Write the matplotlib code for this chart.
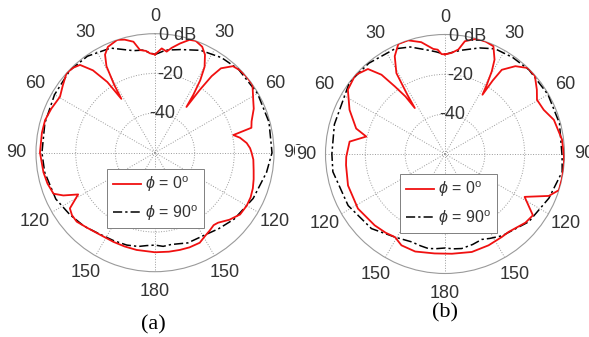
import numpy as np
import matplotlib
matplotlib.use("Agg")
import matplotlib.pyplot as plt

plt.rcParams['font.family'] = ['Liberation Sans', 'DejaVu Sans']
plt.rcParams['mathtext.fontset'] = 'custom'
plt.rcParams['mathtext.rm'] = 'Liberation Sans'
plt.rcParams['mathtext.it'] = 'Liberation Sans:italic'

# ---------------- data (angle in deg, clockwise from top; gain in dB) -------------
a_red_ang = [0, 3.7, 6.6, 9, 12.9, 17, 20, 24, 27, 30, 32, 33.5, 34.5, 35.5, 36.5, 38, 42, 46, 50,
             55, 61.8, 66, 72, 75.5, 77.3, 80, 84, 87.3, 90, 94, 100, 105, 110, 115, 120, 126, 132,
             138, 141, 145, 149, 153.6, 160, 165.6, 172, 180, 190.7, 198, 205, 214, 222, 228.6, 233,
             236.8, 241.5, 245, 248, 254, 260, 270, 280, 286.5, 293, 300.5, 306, 312, 316, 319.5, 323,
             326, 328, 329, 330.7, 333, 336, 341.5, 345, 349, 351.7, 355, 357, 360]
a_red_db = [-10.5, -7.3, -8.7, -6.5, -3.5, -0.5, 0, -1.5, -4.5, -10, -17, -25, -32, -21, -12, -6, -1.3, -0.3, 0,
            0, -3.8, -5.5, -8.8, -9.8, -19.5, -16.5, -13.5, -12, -11.3, -10.3, -9.5, -8.5, -7.5, -6.8, -6.6, -7, -9.5,
            -12.5, -13, -12, -11, -9.3, -9.2, -9.4, -9.6, -9.8, -10.1, -10.3, -10.4, -10.2, -9, -7.4, -7.6,
            -8.7, -15.9, -9, -4.8, -3.6, -2.9, -2, -2.1, -2.2, -3.2, -4.4, -2.5, 0, -0.5, -1.8, -8,
            -17, -28, -20, -10, -4.5, -1.6, 0, -1, -3, -7.7, -8.5, -9.8, -10.5]

a_blk_ang = [0, 6, 14, 24, 35, 45, 60, 75, 90, 100, 115, 130, 140, 150, 160, 165, 170, 175, 180, 185,
             190, 197, 205, 214, 224, 234, 245, 260, 270, 285, 300, 314, 325, 337, 348, 353, 360]
a_blk_db = [-10.5, -8.0, -6.4, -3.5, -1.5, -0.5, -0.3, -0.5, -1.0, -2.9, -5.4, -7.9, -10, -11.6, -11.6,
            -12.5, -13, -12.6, -13.4, -13, -12, -11.3, -11, -10.4, -8.5, -6.9, -4.8, -3.5, -3, -2.5, -1.5,
            -0.3, -0.6, -2.7, -7.4, -7.9, -10.5]

b_red_ang = [0, 3.8, 7.3, 10, 15.3, 20, 24.2, 27.7, 29.5, 31.1, 32.3, 33, 34, 38.7, 44, 49, 55, 59.5,
             65.9, 72.6, 83, 91, 95, 101.8, 107.6, 112, 118.3, 124.9, 130.5, 140.8, 145.6, 154.5, 164.7,
             176, 186, 197, 205.5, 211, 217, 224.6, 237.9, 252, 263.6, 268.4, 277.4, 282.5, 286, 294.8,
             303.5, 311.3, 317.8, 321.3, 323.4, 325.5, 326.7, 327.5, 329, 332.8, 337, 342, 348, 353.6,
             356, 358, 360]
b_red_db = [-10, -9.1, -7.1, -2.5, 0, 0, -0.7, -6.5, -12.3, -19.3, -24.8, -16, -9, -3.5, 0, -0.2, -3.7, -6.4,
            -5.7, -2.7, -0.8, -0.3, 0, 0, 0, -3.8, -14.6, -6.2, -6.9, -9.5, -9.5, -9.2, -9.0,
            -9.8, -9.8, -8.8, -9.2, -11.3, -10.5, -9.7, -8.4, -8.8, -10, -10.4, -11.7, -19.5, -13.6, -7.2,
            -1.5, 0, -2.4, -9, -17.7, -25, -32.4, -25.2, -12.6, -4.8, 0, 0, -2.6, -6.9,
            -7.5, -9.8, -10]

b_blk_ang = [0, 5, 9.2, 18, 25.5, 35, 45, 60, 75, 91, 98.6, 113, 129, 145, 152, 156.7, 163, 170, 175,
             180, 185, 190, 195, 200.8, 211, 224.6, 242, 261, 270, 285, 307, 320, 334.5, 342, 350.8, 355, 360]
b_blk_db = [-10, -8.5, -7.2, -4, -1.5, -0.8, -0.3, -0.3, -0.5, -1.2, -0.5, -3.3, -5.9, -9.9, -12, -13.3,
            -12.5, -11.8, -12.2, -12.8, -12.3, -11.8, -12.3, -12.8, -11.3, -7.4, -4.9, -3, -3.2, -2.5, 0,
            -0.5, -1.5, -3.5, -7.2, -8.5, -10]

angle_ticks = [0, 30, 60, 90, 120, 150, 180, 210, 240, 270, 300, 330]
angle_labels = ['0', '30', '60', '90', '120', '150', '180', '150', '120', '90', '60', '30']
r_ticks = [-40, -20, 0]
r_labels = ['-40', '-20', '0 dB']
legend_labels = [r'$\phi$ = 0$^{\rm o}$', r'$\phi$ = 90$^{\rm o}$']
panel_labels = ['(a)', '(b)']

W, H = 589, 337
fig = plt.figure(figsize=(W / 100, H / 100), dpi=100)
tcol = '#333333'


def make_panel(cx, cy, R, red_ang, red_db, blk_ang, blk_db, leg_xy, lab_xy, lab, white_labels):
    ax = fig.add_axes([(cx - R) / W, 1 - (cy + R) / H, 2 * R / W, 2 * R / H], projection='polar')
    ax.set_theta_zero_location('N')
    ax.set_theta_direction(-1)
    ax.set_ylim(-60, 0)
    ax.set_xticks(np.deg2rad(angle_ticks))
    ax.set_xticklabels([])
    ax.set_yticks(r_ticks[:-1])
    ax.set_yticklabels([])
    ax.grid(True, linestyle=':', color='#9a9a9a', linewidth=0.7)
    ax.spines['polar'].set_color('#9a9a9a')
    ax.spines['polar'].set_linewidth(0.8)
    ax.tick_params(length=0)
    ax.set_facecolor('white')
    ax.set_zorder(1)

    l1, = ax.plot(np.deg2rad(red_ang), red_db, color='#f01010', lw=1.3, zorder=4)
    l2, = ax.plot(np.deg2rad(blk_ang), blk_db, color='black', lw=1.1,
                  linestyle=(0, (6, 2, 1.5, 2)), zorder=3)

    bbox = dict(facecolor='white', edgecolor='none', pad=0.5) if white_labels else None
    for ang, txt in zip(angle_ticks, angle_labels):
        rr = 8.6 if ang == 0 else 9.8
        ax.text(np.deg2rad(ang), rr, txt, ha='center', va='center', fontsize=13,
                color=tcol, clip_on=False, zorder=6, bbox=bbox)
    for rv, txt in zip(r_ticks, r_labels):
        ax.text(np.deg2rad(10.8), rv, txt, ha='center', va='center', fontsize=13,
                color=tcol, clip_on=False, zorder=5)

    leg = ax.legend([l1, l2], legend_labels, loc='upper left',
                    bbox_to_anchor=(leg_xy[0] / W, 1 - leg_xy[1] / H), bbox_transform=fig.transFigure,
                    borderaxespad=0, fontsize=11.5, handlelength=1.75, handletextpad=0.3,
                    labelspacing=0.55, borderpad=0.35, fancybox=False, framealpha=1,
                    edgecolor='#808080')
    leg.get_frame().set_linewidth(0.7)
    for t in leg.get_texts():
        t.set_color(tcol)
    leg.set_zorder(7)

    fig.text(lab_xy[0] / W, 1 - lab_xy[1] / H, lab, ha='center', va='center', fontsize=16,
             family='Liberation Serif', color='black', zorder=10,
             bbox=dict(facecolor='white', edgecolor='none', pad=1) if white_labels else None)
    return ax


make_panel(155, 152.7, 119, a_red_ang, a_red_db, a_blk_ang, a_blk_db, (107, 169), (153, 325),
           panel_labels[0], False)
make_panel(445, 154, 119.5, b_red_ang, b_red_db, b_blk_ang, b_blk_db, (400, 174), (445, 313),
           panel_labels[1], True)

fig.savefig('out.png', dpi=100, facecolor='white')
